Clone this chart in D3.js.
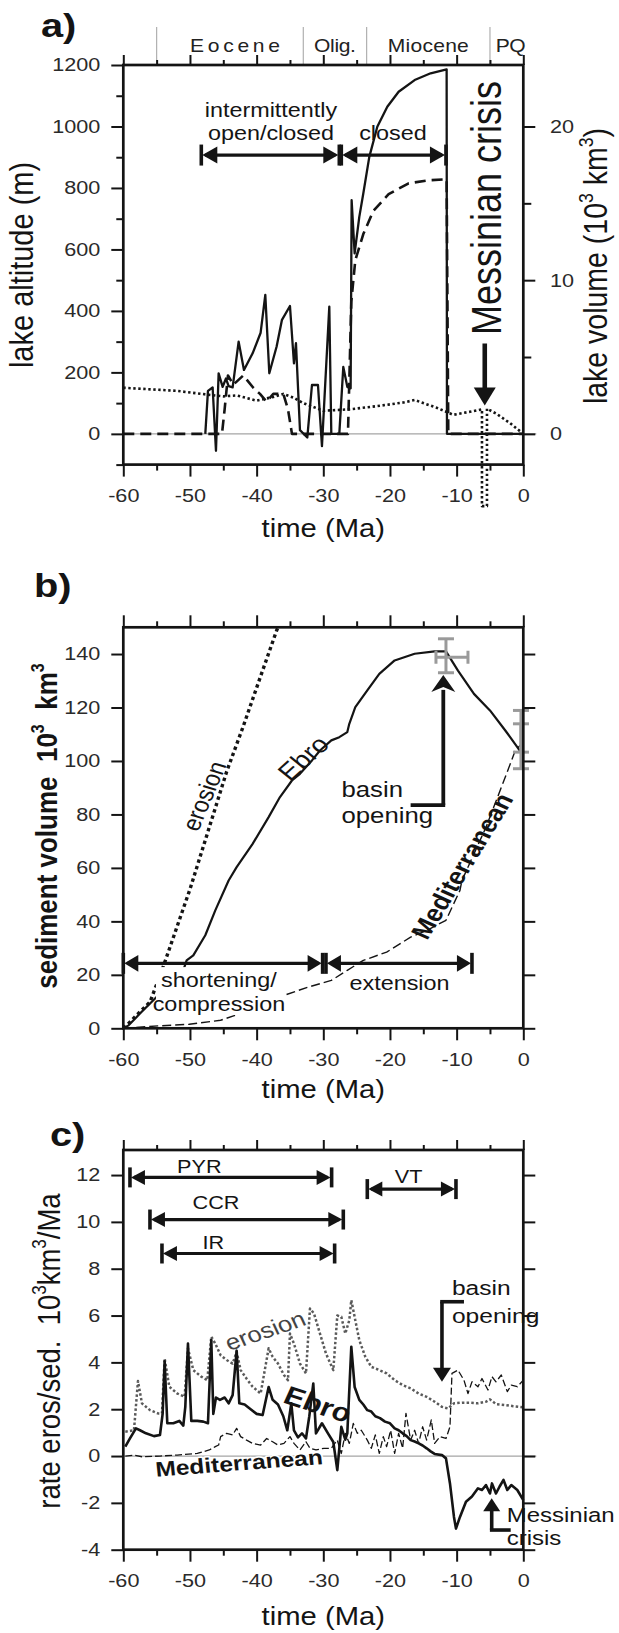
<!DOCTYPE html>
<html>
<head>
<meta charset="utf-8">
<script src="https://cdn.jsdelivr.net/npm/d3@7"></script>
<style>
  html, body { margin: 0; padding: 0; background: #fff; }
  svg { display: block; font-family: "Liberation Sans", Arial, Helvetica, sans-serif; }
</style>
</head>
<body>
<svg id="fig" width="619" height="1633"></svg>
<script>
// ---------------- data ----------------
const timeTicks = [-60, -50, -40, -30, -20, -10, 0];
const timeMinor = [-55, -45, -35, -25, -15, -5];
const epochBounds = [-55, -33, -23.5, -5, 0];
const epochNames = ['Eocene', 'Olig.', 'Miocene', 'PQ'];
const epochWidths = [90, 42, 81, 30];

const altTicks = [0, 200, 400, 600, 800, 1000, 1200];
const altMinor = [-100, 100, 300, 500, 700, 900, 1100];
const volTicks = [0, 10, 20];
const volMinor = [5, 15];
const sedTicks = [0, 20, 40, 60, 80, 100, 120, 140];
const rateTicks = [-4, -2, 0, 2, 4, 6, 8, 10, 12];

// a) lake altitude (m), lake volume (10^3 km^3), base level (m)
const lakeAltitude = [[-47.7,0],[-47.3,140],[-46.6,151],[-46.1,-55],[-45.7,197],[-45.1,153],[-44.6,180],[-44.2,155],[-43.6,151],[-42.7,300],[-41.9,208],[-40.6,262],[-39.4,329],[-38.7,452],[-38.1,197],[-37,284],[-36.2,371],[-35,416],[-34.4,229],[-34.1,295],[-33.5,12],[-32.4,-12],[-31.7,159],[-30.8,159],[-30.2,-40],[-29.1,414],[-28.8,0],[-27.6,0],[-27,218],[-26.4,153],[-25.9,148],[-25.75,760],[-25.3,587],[-24.6,706],[-24,782],[-23.1,901],[-21.9,999],[-20.4,1064],[-18.7,1113],[-16.3,1151],[-13.9,1173],[-11.5,1186],[-11.45,0],[0,0]];
const lakeVolume = [[-60,0],[-45.2,0],[-44.8,1.6],[-44.3,3.8],[-43.5,3.2],[-42,3.8],[-40.5,3.0],[-39.5,2.6],[-38.5,2.1],[-37.5,2.6],[-36,2.6],[-35.3,1.6],[-34.7,0],[-26.3,0],[-25.8,8.6],[-25.2,11.3],[-24,13.0],[-22.5,14.5],[-20.2,15.6],[-17.2,16.3],[-14.2,16.5],[-11.5,16.56],[-11.25,0],[0,0]];
const baseLevel = [[-60,150],[-52,140],[-47.5,128],[-45,122],[-43,125],[-40,108],[-37.5,120],[-36,130],[-34.5,118],[-33,100],[-30,75],[-26,80],[-22,90],[-18,102],[-16.3,110],[-13,85],[-10.5,62],[-8,72],[-6.2,80],[-6.2,-235],[-5.45,-235],[-5.45,82],[-4,65],[-2,35],[0,0]];

// b) cumulative sediment volume (10^3 km^3)
const ebroVolume = [[-60,0],[-59.2,1.1],[-57.5,5.5],[-55.5,10.5],[-51,21.7],[-50.5,25.4],[-49.5,27.3],[-47.7,34.8],[-46.2,44.1],[-44.2,55.3],[-43,60.3],[-40.6,69],[-38.2,79],[-36.5,86.5],[-34.7,92.7],[-33.5,95.2],[-31.7,100.2],[-30.5,103.9],[-28.8,107.7],[-27.6,108.9],[-26.4,110.8],[-26.1,113.9],[-25.2,120.1],[-23.4,126.4],[-21.6,132.6],[-19.3,137.6],[-16.3,140.1],[-13.3,141],[-11.6,141],[-9.8,133.8],[-7.4,125.1],[-5,118.9],[-2.7,111.4],[-0.9,105.2],[0,102]];
const erosionVolume = [[-60,0],[-59.5,1.1],[-58,4.9],[-56,9.8],[-54.2,21.7],[-50,52],[-47,76],[-44.5,96],[-42,113],[-39.5,131],[-37,148.8],[-36.8,150]];
const medVolume = [[-60,0],[-54.8,0.9],[-50.1,1.5],[-45.4,3.0],[-41.8,6.1],[-38.2,8.6],[-35.9,12.3],[-32.3,15.4],[-28.8,17.9],[-26.4,21.7],[-24,25.4],[-20.5,28.5],[-16.9,34.1],[-14.5,36.6],[-11.6,40.4],[-9.5,51.6],[-9.2,55.3],[-5.6,75.2],[-2.7,94],[-1.2,103.9],[0,107]];
const volumeObs = [
  {t: -11.6, v: 138.8, lo: 133, hi: 145.7, tlo: -13.1, thi: -8.3},
  {t: -0.35, v: 108, lo: 97.1, hi: 118.9, tlo: -0.35, thi: -0.35},
  {t: -0.35, v: 108.5, lo: 103.3, hi: 113.9, tlo: -0.35, thi: -0.35}
];

// c) erosion / sedimentation rate (10^3 km^3/Ma)
const ebroRate = [[-59.7,0.4],[-59,0.75],[-58.1,1.18],[-57.5,1.1],[-56.6,0.97],[-55.4,0.85],[-54.5,0.9],[-54.1,1.8],[-53.8,4.05],[-53.4,1.4],[-52.5,1.4],[-51.6,1.5],[-51,1.3],[-50.7,2.1],[-50.3,4.8],[-49.8,1.5],[-48.9,1.5],[-48,1.47],[-47.3,1.4],[-46.8,4.95],[-46.5,1.8],[-46.1,2.5],[-45.5,2.4],[-44.8,2.5],[-44.2,2.25],[-43.6,2.6],[-43,4.5],[-42.6,2.25],[-41.8,2.2],[-40.9,2.0],[-40,1.8],[-39.1,1.75],[-38.2,2.95],[-37.6,2.4],[-36.8,2.2],[-36,1.7],[-35.4,1.1],[-34.8,2.25],[-34.4,1.1],[-33.8,0.8],[-33.2,0.97],[-32.6,0.75],[-32.1,1.7],[-31.5,3.1],[-31.1,0.97],[-30.2,1.4],[-29.3,0.97],[-28.5,0.6],[-27.9,-0.6],[-27.3,1.25],[-26.7,0.7],[-26.4,0.97],[-25.8,4.67],[-25.3,2.95],[-24.6,2.4],[-24,2.2],[-23.4,1.96],[-22.8,1.9],[-22.2,1.7],[-21.5,1.62],[-20.75,1.47],[-20,1.4],[-19.3,1.18],[-18.7,1.1],[-18.1,0.97],[-17.5,0.85],[-16.9,0.68],[-16.3,0.62],[-15.7,0.54],[-15.1,0.45],[-14.5,0.33],[-13.9,0.2],[-13.3,0.09],[-12.2,0.04],[-11.6,-0.1],[-11,-1.17],[-10.4,-2.6],[-10.1,-3.1],[-9.5,-2.6],[-8.6,-1.95],[-7.7,-1.73],[-6.8,-1.38],[-6.2,-1.45],[-5.6,-1.24],[-5,-1.6],[-4.7,-1.17],[-4.1,-1.6],[-3.55,-1.3],[-2.97,-1.02],[-2.4,-1.45],[-1.8,-1.24],[-0.9,-1.45],[0,-1.88]];
const erosionRate = [[-59.7,1.04],[-58.4,1.1],[-57.8,3.2],[-57.2,2.25],[-56,1.96],[-54.8,1.82],[-54.2,1.82],[-53.8,4.17],[-53.1,2.96],[-51.9,2.67],[-50.8,2.53],[-50.3,4.6],[-49.5,3.67],[-48.3,3.39],[-47.4,3.24],[-46.8,5.1],[-46.2,4.8],[-45.4,4.3],[-44.5,4.1],[-43.6,3.95],[-43,4.45],[-42.4,3.67],[-41.5,3.3],[-40.6,2.96],[-39.4,2.67],[-38.2,4.6],[-37.6,4.24],[-36.8,3.95],[-35.9,3.46],[-35.3,3.24],[-35,5.23],[-34.4,4.8],[-33.5,3.95],[-32.6,3.53],[-32,6.3],[-31.4,6.09],[-30.5,5.23],[-29.6,4.38],[-28.5,3.67],[-27.9,6.0],[-27.3,5.95],[-26.7,5.23],[-26.1,5.8],[-25.8,6.66],[-25.2,5.8],[-24.6,4.95],[-23.7,4.24],[-22.8,3.81],[-21.6,3.67],[-20.5,3.53],[-19.3,3.24],[-18.1,3.03],[-16.9,2.89],[-15.7,2.67],[-14.5,2.53],[-13.3,2.32],[-12.2,2.1],[-11.3,2.03],[-10.4,2.25],[-9.2,2.28],[-8,2.28],[-6.8,2.25],[-5.6,2.32],[-5,2.42],[-4.1,2.22],[-2.7,2.18],[-1.5,2.13],[0,2.08]];
const medRate = [[-59.7,0],[-58.4,0.04],[-57.2,-0.03],[-54.5,0],[-51.9,0.04],[-48.9,0.11],[-47.1,0.26],[-46.2,0.4],[-45.7,0.47],[-45.4,0.83],[-44.5,0.97],[-43.6,0.9],[-43,1.18],[-42.4,0.83],[-41.5,0.68],[-40.6,0.54],[-39.4,0.47],[-38.5,0.75],[-37.6,0.61],[-36.8,0.47],[-35.9,0.54],[-35,0.83],[-34.4,0.54],[-33.5,0.26],[-32.6,0.61],[-32,0.33],[-31.1,0.26],[-29.9,0.33],[-28.8,0.33],[-27.9,0.68],[-27.3,0.11],[-26.7,0.97],[-26.1,0.54],[-25.5,1.39],[-24.9,0.97],[-24.3,1.1],[-23.4,0.68],[-22.8,0.33],[-22.2,0.9],[-21.6,0.11],[-21,0.83],[-20.5,0.4],[-19.9,1.1],[-19.3,0.11],[-18.7,0.97],[-18.1,0.33],[-17.6,1.82],[-16.9,0.68],[-16.3,1.1],[-15.7,0.54],[-15.1,1.25],[-14.5,0.68],[-13.8,1.54],[-13.3,0.54],[-12.5,0.83],[-11.6,0.75],[-11,1.25],[-10.7,3.53],[-9.8,3.67],[-8.9,3.24],[-8.3,2.67],[-7.7,3.17],[-6.8,2.96],[-6.2,3.31],[-5.3,2.82],[-4.7,3.39],[-4.1,3.17],[-3.3,3.46],[-2.4,2.75],[-1.8,3.03],[-0.9,2.96],[0,3.24]];

// tectonic phases (Ma) shown as spans
const lakeSpans = [{from: -48.3, to: -27.6, level: 907}, {from: -27.3, to: -11.6, level: 907}];
const tectonicSpans = [{from: -60, to: -30.1, level: 24.3}, {from: -29.6, to: -7.7, level: 24.3}];
const orogenySpans = [
  {name: 'PYR', from: -59, to: -28.75, level: 11.9},
  {name: 'CCR', from: -56, to: -27, level: 10.1},
  {name: 'IR',  from: -54.2, to: -28.3, level: 8.65},
  {name: 'VT',  from: -23.4, to: -10.1, level: 11.4}
];

// ---------------- drawing ----------------
const SX = 1.17;           // horizontal glyph widening applied to all text
const INK = '#141414';
const svg = d3.select('#fig');
const x = d3.scaleLinear([-60, 0], [123.3, 523.3]);
const ya = d3.scaleLinear([-100, 1200], [464.6, 65]);
const yVol = d3.scaleLinear([-2, 24], [464.6, 65]);
const yb = d3.scaleLinear([0, 150], [1028.3, 627.3]);
const yc = d3.scaleLinear([-4, 13.07], [1549.7, 1150]);

function txt(g, px, py, content, o = {}) {
  const fs = o.size || 20;
  let tr = `translate(${px},${py}) scale(${SX},1)`;
  if (o.rot) tr += ` rotate(${o.rot})`;
  const t = g.append('text').attr('transform', tr).attr('font-size', fs)
    .attr('text-anchor', o.anchor || 'start').attr('fill', o.fill || INK)
    .attr('font-weight', o.weight || 'normal').style('white-space', 'pre');
  if (o.base) t.attr('dominant-baseline', o.base);
  if (o.len) t.attr('textLength', o.len / SX).attr('lengthAdjust', 'spacing');
  if (o.halo) t.attr('stroke', '#fff').attr('stroke-width', o.halo)
    .attr('paint-order', 'stroke').attr('stroke-linejoin', 'round');
  const segs = typeof content === 'string' ? [[content]] : content;
  let up = false;
  segs.forEach(([s, kind]) => {
    const ts = t.append('tspan').text(s);
    if (kind === 'sup') { ts.attr('font-size', fs * 0.62).attr('dy', -0.42 * fs); up = true; }
    else if (up) { ts.attr('dy', 0.42 * fs); up = false; }
  });
  return t;
}

function styleAxis(sel) {
  sel.select('.domain').remove();
  sel.attr('font-size', 18.5).attr('font-family', null);
  sel.selectAll('.tick line').attr('stroke', INK).attr('stroke-width', 2);
  sel.selectAll('.tick text').attr('fill', '#2a2a2a');
}

function axes(g, y, cfg) {
  const [X0, X1] = x.range();
  const Yb = y.range()[0], Yt = y.range()[1];
  const fmt = d => String(d);
  // bottom
  const b1 = g.append('g').attr('transform', `translate(0,${Yb})`)
    .call(d3.axisBottom(x).tickValues(timeTicks).tickSize(12).tickPadding(12.4).tickFormat(fmt));
  styleAxis(b1);
  b1.selectAll('.tick text').attr('transform', `scale(${SX},1)`);
  const b2 = g.append('g').attr('transform', `translate(0,${Yb})`)
    .call(d3.axisBottom(x).tickValues(timeMinor).tickSize(6).tickFormat(''));
  styleAxis(b2);
  // top
  const t1 = g.append('g').attr('transform', `translate(0,${Yt})`)
    .call(d3.axisTop(x).tickValues(timeTicks).tickSize(cfg.topMajor).tickFormat(''));
  styleAxis(t1);
  const t2 = g.append('g').attr('transform', `translate(0,${Yt})`)
    .call(d3.axisTop(x).tickValues(timeMinor).tickSize(cfg.topMajor / 2).tickFormat(''));
  styleAxis(t2);
  // left
  const l1 = g.append('g').attr('transform', `translate(${X0},0)`)
    .call(d3.axisLeft(y).tickValues(cfg.left).tickSize(12).tickPadding(11).tickFormat(fmt));
  styleAxis(l1);
  l1.selectAll('.tick text').attr('transform', `scale(${SX},1)`).attr('x', -23 / SX);
  if (cfg.leftMinor) {
    const l2 = g.append('g').attr('transform', `translate(${X0},0)`)
      .call(d3.axisLeft(y).tickValues(cfg.leftMinor).tickSize(7).tickFormat(''));
    styleAxis(l2);
  }
  // right
  const ry = cfg.rightScale || y;
  const r1 = g.append('g').attr('transform', `translate(${X1},0)`)
    .call(d3.axisRight(ry).tickValues(cfg.right).tickSize(12).tickPadding(14.7)
      .tickFormat(cfg.rightLabels ? fmt : ''));
  styleAxis(r1);
  r1.selectAll('.tick text').attr('transform', `scale(${SX},1)`).attr('x', 26.7 / SX);
  if (cfg.rightMinor) {
    const r2 = g.append('g').attr('transform', `translate(${X1},0)`)
      .call(d3.axisRight(ry).tickValues(cfg.rightMinor).tickSize(8).tickFormat(''));
    styleAxis(r2);
  }
  // frame
  g.append('rect').attr('x', X0).attr('y', Yt).attr('width', X1 - X0).attr('height', Yb - Yt)
    .attr('fill', 'none').attr('stroke', INK).attr('stroke-width', 2.7);
  // x title
  txt(g, (X0 + X1) / 2, Yb + cfg.titleDy, 'time (Ma)', {size: 25, anchor: 'middle'});
}

function zeroLine(g, y) {
  g.append('line').attr('x1', x.range()[0]).attr('x2', x.range()[1] + 13)
    .attr('y1', y(0)).attr('y2', y(0)).attr('stroke', '#a5a5a5').attr('stroke-width', 1.2);
}

function curve(g, data, y, style) {
  const line = d3.line().x(d => x(d[0])).y(d => y(d[1]));
  g.append('path').datum(data).attr('d', line).attr('fill', 'none')
    .attr('stroke', style.color || INK).attr('stroke-width', style.width)
    .attr('stroke-dasharray', style.dash || null).attr('stroke-linejoin', 'round');
}

// horizontal double-headed arrow with end bars
function span(g, t1, t2, yPix, o = {}) {
  const X1 = x(t1), X2 = x(t2);
  const L = o.head || 15, h = o.half || 8, bh = o.bar || 10.5;
  g.append('line').attr('x1', X1 + 4).attr('x2', X2 - 4).attr('y1', yPix).attr('y2', yPix)
    .attr('stroke', INK).attr('stroke-width', 3.2);
  g.append('path').attr('d', `M${X1 + 1},${yPix}L${X1 + 1 + L},${yPix - h}L${X1 + 1 + L},${yPix + h}Z`).attr('fill', INK);
  g.append('path').attr('d', `M${X2 - 1},${yPix}L${X2 - 1 - L},${yPix - h}L${X2 - 1 - L},${yPix + h}Z`).attr('fill', INK);
  [X1, X2].forEach(X => g.append('line').attr('x1', X).attr('x2', X)
    .attr('y1', yPix - bh).attr('y2', yPix + bh).attr('stroke', INK).attr('stroke-width', 3.6));
}

// vertical arrow with an optional horizontal tail at its foot
function vArrow(g, X, yFoot, yTip, tailX, o = {}) {
  const dir = yTip < yFoot ? -1 : 1;       // -1: pointing up
  const L = o.head || 15, h = o.half || 9, notch = o.notch || 0;
  const w = o.width || 3.6;
  g.append('line').attr('x1', X).attr('x2', X).attr('y1', yFoot).attr('y2', yTip - dir * (L - 2))
    .attr('stroke', INK).attr('stroke-width', w);
  if (tailX != null) {
    g.append('line').attr('x1', X - w / 2 * Math.sign(tailX - X)).attr('x2', tailX)
      .attr('y1', yFoot).attr('y2', yFoot).attr('stroke', INK).attr('stroke-width', w);
  }
  const by = yTip - dir * L;
  g.append('path').attr('d', `M${X},${yTip}L${X - h},${by}L${X},${by + dir * notch}L${X + h},${by}Z`).attr('fill', INK);
}

// ================= panel a =================
const ga = svg.append('g');
txt(ga, 41, 37, 'a)', {size: 34, weight: 'bold'});
zeroLine(ga, ya);
// epoch boundaries and names above the top axis
epochBounds.slice(0, 4).forEach(b => ga.append('line').attr('x1', x(b)).attr('x2', x(b))
  .attr('y1', ya.range()[1] - 38).attr('y2', ya.range()[1]).attr('stroke', '#b0b0b0').attr('stroke-width', 1.2));
epochNames.forEach((n, i) => {
  const mid = (epochBounds[i] + epochBounds[i + 1]) / 2;
  txt(ga, x(mid) + (i === 0 ? 5 : i === 3 ? 4 : 0), 52, n, {size: 18, anchor: 'middle', len: epochWidths[i], fill: '#222'});
});
curve(ga, baseLevel, ya, {width: 2.6, dash: '2.4,2.6'});
curve(ga, lakeVolume, yVol, {width: 2.6, dash: '11,6'});
curve(ga, lakeAltitude, ya, {width: 2.3});
axes(ga, ya, {topMajor: 10, left: altTicks, leftMinor: altMinor, right: volTicks, rightMinor: volMinor,
  rightScale: yVol, rightLabels: true, titleDy: 72});
txt(ga, 33, 265, 'lake altitude (m)', {size: 29, anchor: 'middle', rot: -90});
txt(ga, 607, 266, [['lake volume (10'], ['3', 'sup'], [' km'], ['3', 'sup'], [')']], {size: 28.5, anchor: 'middle', rot: -90});
lakeSpans.forEach(s => span(ga, s.from, s.to, ya(s.level), {head: 15, half: 8.5, bar: 10.5}));
txt(ga, x(-37.85), ya(1030.8), 'intermittently', {size: 20, anchor: 'middle'});
txt(ga, x(-37.85), ya(956), 'open/closed', {size: 20, anchor: 'middle'});
txt(ga, x(-19.55), ya(956), 'closed', {size: 20, anchor: 'middle'});
txt(ga, x(-3.35), ya(735), 'Messinian crisis', {size: 36, anchor: 'middle', rot: -90});
vArrow(ga, x(-5.78), ya(294), ya(92), null, {head: 18, half: 11, width: 4.6});

// ================= panel b =================
const gb = svg.append('g');
txt(gb, 34, 597, 'b)', {size: 34, weight: 'bold'});
curve(gb, medVolume, yb, {width: 1.4, dash: '9,4'});
curve(gb, erosionVolume, yb, {width: 3.4, dash: '3.4,3.2'});
curve(gb, ebroVolume, yb, {width: 2.2});
// observed volumes with uncertainty
const eb = gb.append('g').attr('stroke', '#9a9a9a').attr('stroke-width', 3).attr('fill', 'none');
volumeObs.forEach(o => {
  const X = x(o.t);
  eb.append('line').attr('x1', X).attr('x2', X).attr('y1', yb(o.lo)).attr('y2', yb(o.hi));
  [o.lo, o.hi].forEach(v => eb.append('line').attr('x1', X - 8).attr('x2', X + 8).attr('y1', yb(v)).attr('y2', yb(v)));
  if (o.thi > o.tlo) {
    eb.append('line').attr('x1', x(o.tlo)).attr('x2', x(o.thi)).attr('y1', yb(o.v)).attr('y2', yb(o.v));
    [o.tlo, o.thi].forEach(t => eb.append('line').attr('x1', x(t)).attr('x2', x(t)).attr('y1', yb(o.v) - 6.5).attr('y2', yb(o.v) + 6.5));
  }
});
axes(gb, yb, {topMajor: 12, left: sedTicks, right: sedTicks, rightLabels: false, titleDy: 70});
txt(gb, 57, 826, [['sediment volume  10'], ['3', 'sup'], ['  km'], ['3', 'sup']], {size: 26, weight: 'bold', anchor: 'middle', rot: -90});
// label backing
gb.append('rect').attr('x', x(-55.1)).attr('y', yb(22.9)).attr('width', x(-35.7) - x(-55.1))
  .attr('height', yb(4.98) - yb(22.9)).attr('fill', '#fff');
txt(gb, x(-45.65), yb(15.45), 'shortening/', {size: 20, anchor: 'middle'});
txt(gb, x(-45.65), yb(6.47), 'compression', {size: 20, anchor: 'middle'});
txt(gb, x(-18.57), yb(14.33), 'extension', {size: 20, anchor: 'middle'});
tectonicSpans.forEach(s => span(gb, s.from, s.to, yb(s.level), {head: 14, half: 8.3, bar: 10.5}));
txt(gb, x(-27.27), yb(86.5), 'basin', {size: 22});
txt(gb, x(-27.27), yb(76.8), 'opening', {size: 22});
vArrow(gb, x(-12), yb(83.5), yb(132.2), x(-16.9), {head: 17, half: 12, notch: 5, width: 3.8});
txt(gb, x(-48), yb(87), 'erosion', {size: 22, anchor: 'middle', base: 'central', rot: -70});
txt(gb, x(-33), yb(101), 'Ebro', {size: 24, anchor: 'middle', base: 'central', rot: -46.5});
txt(gb, x(-9.2), yb(60.7), 'Mediterranean', {size: 23.5, weight: 'bold', anchor: 'middle', base: 'central', rot: -62.4});

// ================= panel c =================
const gc = svg.append('g');
txt(gc, 50, 1146, 'c)', {size: 34, weight: 'bold'});
zeroLine(gc, yc);
curve(gc, medRate, yc, {width: 1.3, dash: '7,3'});
curve(gc, erosionRate, yc, {width: 2.5, dash: '2.5,2.2', color: '#5a5a5a'});
curve(gc, ebroRate, yc, {width: 2.6});
axes(gc, yc, {topMajor: 10, left: rateTicks, right: rateTicks, rightLabels: false, titleDy: 75});
txt(gc, 60, 1351, [['rate eros/sed.  10'], ['3', 'sup'], ['km'], ['3', 'sup'], ['/Ma']], {size: 27.5, anchor: 'middle', rot: -90});
orogenySpans.forEach(s => span(gc, s.from, s.to, yc(s.level), {head: 14, half: 7.5, bar: 10}));
txt(gc, x(-48.6), yc(12.07), 'PYR', {size: 18.5, anchor: 'middle'});
txt(gc, x(-46.1), yc(10.57), 'CCR', {size: 18.5, anchor: 'middle'});
txt(gc, x(-46.5), yc(8.86), 'IR', {size: 18.5, anchor: 'middle'});
txt(gc, x(-17.2), yc(11.64), 'VT', {size: 18.5, anchor: 'middle'});
txt(gc, x(-10.7), yc(6.87), 'basin', {size: 21});
txt(gc, x(-10.7), yc(5.68), 'opening', {size: 21});
vArrow(gc, x(-12.2), yc(6.59), yc(3.17), x(-8.9), {head: 14, half: 9, width: 3.6});
txt(gc, x(-2.49), yc(-2.8), 'Messinian', {size: 20.5});
txt(gc, x(-2.49), yc(-3.8), 'crisis', {size: 20.5});
vArrow(gc, x(-4.74), yc(-3.16), yc(-1.8), x(-1.89), {head: 13, half: 8.5, width: 3.6});
txt(gc, x(-38.77), yc(5.38), 'erosion', {size: 22, anchor: 'middle', base: 'central', rot: -21.6, fill: '#444'});
txt(gc, x(-30.8), yc(2.22), 'Ebro', {size: 26, weight: 'bold', anchor: 'middle', base: 'central', rot: 20.8});
txt(gc, x(-42.65), yc(-0.3), 'Mediterranean', {size: 21, weight: 'bold', anchor: 'middle', base: 'central', rot: -5.1, halo: 3});
</script>
</body>
</html>
